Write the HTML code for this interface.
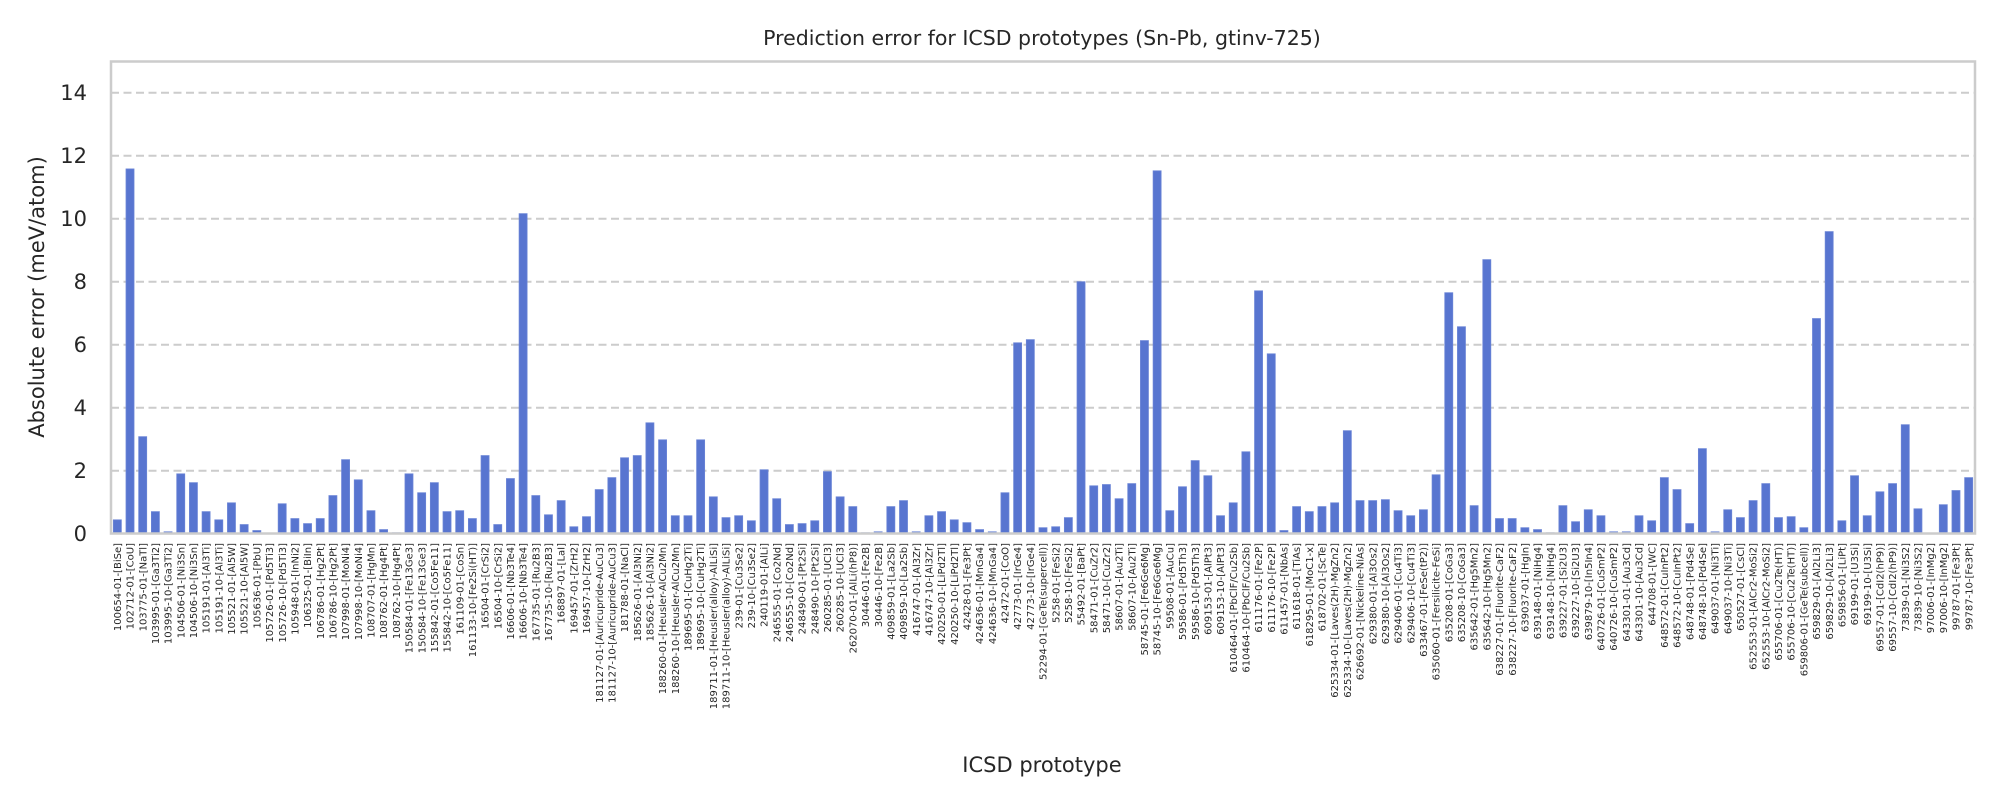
<!DOCTYPE html>
<html><head><meta charset="utf-8"><style>
html,body{margin:0;padding:0;background:#fff;width:2000px;height:800px;overflow:hidden}
svg{display:block;font-family:"DejaVu Sans","Liberation Sans",sans-serif}
</style></head><body>
<svg id="chart" width="2000" height="800" viewBox="0 0 2000 800">
<text x="1042" y="45" text-anchor="middle" font-size="20.5" fill="#262626">Prediction error for ICSD prototypes (Sn-Pb, gtinv-725)</text>
<g id="grid"></g>
<g id="bars"></g>
<g id="yticks"></g>
<g id="xticks"></g>
<rect x="111" y="61.5" width="1864" height="472" fill="none" stroke="#cccccc" stroke-width="2.5"/>
<text x="1042" y="772" text-anchor="middle" font-size="21" fill="#262626">ICSD prototype</text>
<text transform="translate(44,297) rotate(-90)" text-anchor="middle" font-size="21" fill="#262626">Absolute error (meV/atom)</text>
</svg>
<script>
const categories = ["100654-01-[BiSe]","102712-01-[CoU]","103775-01-[NaTl]","103995-01-[Ga3Ti2]","103995-10-[Ga3Ti2]","104506-01-[Ni3Sn]","104506-10-[Ni3Sn]","105191-01-[Al3Ti]","105191-10-[Al3Ti]","105521-01-[Al5W]","105521-10-[Al5W]","105636-01-[PbU]","105726-01-[Pd5Ti3]","105726-10-[Pd5Ti3]","105948-01-[InNi2]","106325-01-[BiIn]","106786-01-[Hg2Pt]","106786-10-[Hg2Pt]","107998-01-[MoNi4]","107998-10-[MoNi4]","108707-01-[HgMn]","108762-01-[Hg4Pt]","108762-10-[Hg4Pt]","150584-01-[Fe13Ge3]","150584-10-[Fe13Ge3]","155842-01-[Co5Fe11]","155842-10-[Co5Fe11]","161109-01-[CoSn]","161133-10-[Fe2Si(HT)]","16504-01-[CrSi2]","16504-10-[CrSi2]","16606-01-[Nb3Te4]","16606-10-[Nb3Te4]","167735-01-[Ru2B3]","167735-10-[Ru2B3]","168897-01-[LaI]","169457-01-[ZrH2]","169457-10-[ZrH2]","181127-01-[Auricupride-AuCu3]","181127-10-[Auricupride-AuCu3]","181788-01-[NaCl]","185626-01-[Al3Ni2]","185626-10-[Al3Ni2]","188260-01-[Heusler-AlCu2Mn]","188260-10-[Heusler-AlCu2Mn]","189695-01-[CuHg2Ti]","189695-10-[CuHg2Ti]","189711-01-[Heusler(alloy)-AlLiSi]","189711-10-[Heusler(alloy)-AlLiSi]","239-01-[Cu3Se2]","239-10-[Cu3Se2]","240119-01-[AlLi]","246555-01-[Co2Nd]","246555-10-[Co2Nd]","248490-01-[Pt2Si]","248490-10-[Pt2Si]","260285-01-[UCl3]","260285-10-[UCl3]","262070-01-[AlLi(hP8)]","30446-01-[Fe2B]","30446-10-[Fe2B]","409859-01-[La2Sb]","409859-10-[La2Sb]","416747-01-[Al3Zr]","416747-10-[Al3Zr]","420250-01-[LiPd2Tl]","420250-10-[LiPd2Tl]","42428-01-[Fe3Pt]","424636-01-[MnGa4]","424636-10-[MnGa4]","42472-01-[CoO]","42773-01-[IrGe4]","42773-10-[IrGe4]","52294-01-[GeTe(supercell)]","5258-01-[FeSi2]","5258-10-[FeSi2]","55492-01-[BaPt]","58471-01-[CuZr2]","58471-10-[CuZr2]","58607-01-[Au2Ti]","58607-10-[Au2Ti]","58745-01-[Fe6Ge6Mg]","58745-10-[Fe6Ge6Mg]","59508-01-[AuCu]","59586-01-[Pd5Th3]","59586-10-[Pd5Th3]","609153-01-[AlPt3]","609153-10-[AlPt3]","610464-01-[PbClF/Cu2Sb]","610464-10-[PbClF/Cu2Sb]","611176-01-[Fe2P]","611176-10-[Fe2P]","611457-01-[NbAs]","611618-01-[TiAs]","618295-01-[MoC1-x]","618702-01-[ScTe]","625334-01-[Laves(2H)-MgZn2]","625334-10-[Laves(2H)-MgZn2]","626692-01-[Nickeline-NiAs]","629380-01-[Al3Os2]","629380-10-[Al3Os2]","629406-01-[Cu4Ti3]","629406-10-[Cu4Ti3]","633467-01-[FeSe(tP2)]","635060-01-[Fersilicite-FeSi]","635208-01-[CoGa3]","635208-10-[CoGa3]","635642-01-[Hg5Mn2]","635642-10-[Hg5Mn2]","638227-01-[Fluorite-CaF2]","638227-10-[Fluorite-CaF2]","639037-01-[HgIn]","639148-01-[NiHg4]","639148-10-[NiHg4]","639227-01-[Si2U3]","639227-10-[Si2U3]","639879-10-[In5In4]","640726-01-[CuSmP2]","640726-10-[CuSmP2]","643301-01-[Au3Cd]","643301-10-[Au3Cd]","644708-01-[WC]","648572-01-[CuInPt2]","648572-10-[CuInPt2]","648748-01-[Pd4Se]","648748-10-[Pd4Se]","649037-01-[Ni3Ti]","649037-10-[Ni3Ti]","650527-01-[CsCl]","652553-01-[AlCr2-MoSi2]","652553-10-[AlCr2-MoSi2]","655706-01-[Cu2Te(HT)]","655706-10-[Cu2Te(HT)]","659806-01-[GeTe(subcell)]","659829-01-[Al2Li3]","659829-10-[Al2Li3]","659856-01-[LiPt]","69199-01-[U3Si]","69199-10-[U3Si]","69557-01-[CdI2(hP9)]","69557-10-[CdI2(hP9)]","73839-01-[Ni3S2]","73839-10-[Ni3S2]","97006-01-[InMg2]","97006-10-[InMg2]","99787-01-[Fe3Pt]","99787-10-[Fe3Pt]"];
const errors = [0.44,11.58,3.08,0.70,0.06,1.90,1.62,0.70,0.44,0.98,0.29,0.10,0.0,0.95,0.48,0.32,0.48,1.21,2.35,1.71,0.73,0.13,0.03,1.90,1.30,1.62,0.70,0.73,0.48,2.48,0.29,1.75,10.16,1.21,0.60,1.05,0.22,0.54,1.40,1.78,2.41,2.48,3.52,2.98,0.57,0.57,2.98,1.17,0.51,0.57,0.41,2.03,1.11,0.29,0.32,0.41,1.97,1.17,0.86,0.03,0.06,0.86,1.05,0.06,0.57,0.70,0.44,0.35,0.13,0.06,1.30,6.06,6.16,0.19,0.22,0.51,8.0,1.52,1.56,1.11,1.59,6.13,11.52,0.73,1.49,2.32,1.84,0.57,0.98,2.60,7.71,5.71,0.10,0.86,0.70,0.86,0.98,3.27,1.05,1.05,1.08,0.73,0.57,0.76,1.87,7.65,6.57,0.89,8.70,0.48,0.48,0.19,0.13,0.03,0.89,0.38,0.76,0.57,0.06,0.06,0.57,0.41,1.78,1.40,0.32,2.70,0.06,0.76,0.51,1.05,1.59,0.51,0.54,0.19,6.83,9.59,0.41,1.84,0.57,1.33,1.59,3.46,0.79,0.0,0.92,1.37,1.78];
const yTicks = [0,2,4,6,8,10,12,14];

const NS = "http://www.w3.org/2000/svg";
const X0 = 111, X1 = 1975, Y0 = 533.7, YT = 61.2, YMAX = 15;
const step = (X1 - X0) / categories.length;
function xScale(i){ return X0 + (i + 0.5) * step; }
function yScale(v){ return Y0 - (v / YMAX) * (Y0 - YT); }
function mk(tag, attrs){ const e = document.createElementNS(NS, tag); for (const k in attrs) e.setAttribute(k, attrs[k]); return e; }

const grid = document.getElementById('grid'), yt = document.getElementById('yticks');
yTicks.forEach(t => {
  const y = yScale(t);
  if (t > 0) {
    const l = mk('line', {x1: X0, x2: X1, y1: y, y2: y, stroke: '#cccccc', 'stroke-width': 2, 'stroke-dasharray': '8,4.5'});
    
    
    grid.appendChild(l);
  }
  const tx = mk('text', {x: 87, y: y + 7.5, 'text-anchor': 'end', 'font-size': 21, fill: '#262626'});
  tx.textContent = t;
  
  
  yt.appendChild(tx);
});

const bars = document.getElementById('bars'), xt = document.getElementById('xticks');
const bw = step * 0.63;
categories.forEach((c, i) => {
  const cx = xScale(i), v = errors[i];
  const r = mk('rect', {x: cx - bw/2, y: yScale(v), width: bw, height: Math.max(0, Y0 - yScale(v)), fill: '#5875d0', stroke: '#6a84d6', 'stroke-width': 0.8});
  
  
  bars.appendChild(r);
  const t = mk('text', {transform: 'translate(' + (cx + 3.6) + ',543) rotate(-90)', 'text-anchor': 'end', 'font-size': 10, fill: '#262626'});
  t.textContent = c;
  
  
  xt.appendChild(t);
});
</script>
</body></html>
